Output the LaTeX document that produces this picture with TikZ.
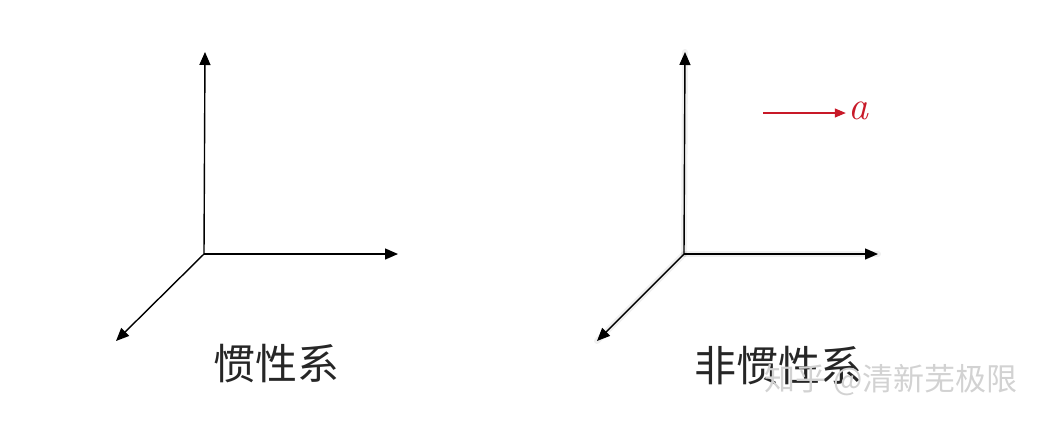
\documentclass[tikz,border=0pt]{standalone}
\usepackage{amsmath}
\usepackage{fontspec}
\newfontfamily\cjk{Noto Sans CJK SC}
\usetikzlibrary{arrows.meta}
\definecolor{accred}{RGB}{200,25,40}
\definecolor{markgray}{RGB}{210,210,210}
\tikzset{
    axis/.style={line width=1.4pt, -{Triangle[length=13pt,width=11pt]}},
    glow/.style={line width=6pt, black, opacity=0.06, line cap=round},
    framelabel/.style={font=\cjk\fontsize{42}{46}\selectfont, text=black!85},
}
\begin{document}
\begin{tikzpicture}[x=1pt,y=-1pt]
\useasboundingbox (0,0) rectangle (1045,424);
% inertial frame
\coordinate (oL) at (204,254);
\coordinate (yL) at (205,52);
\coordinate (xL) at (398,254);
\coordinate (zL) at (116,341);
\draw[axis] (oL) -- (yL);
\draw[axis] (oL) -- (xL);
\draw[axis] (oL) -- (zL);
\node[framelabel] (lblL) at (276,364) {惯性系};
% non-inertial frame
\coordinate (oR) at (684,254);
\coordinate (yR) at (685,52);
\coordinate (xR) at (878,254);
\coordinate (zR) at (597,341);
\foreach \e in {yR,xR,zR} {
    \draw[glow] (oR) -- (\e);
}
\draw[axis] (oR) -- (yR);
\draw[axis] (oR) -- (xR);
\draw[axis] (oR) -- (zR);
\node[framelabel] (lblR) at (778,366) {非惯性系};
% acceleration
\coordinate (aS) at (763,113);
\node[text=accred, font=\fontsize{40}{44}\selectfont\itshape, inner sep=2pt] (acc) at (858,111) {a};
\draw[accred, line width=1.2pt, -{Triangle[length=11pt,width=9pt]}] (aS) -- (acc.west |- aS);
% watermark
\node[font=\cjk\fontsize{31}{34}\selectfont, text=markgray] (mark) at (891,380) {知乎 @清新芜极限};
\end{tikzpicture}
\end{document}
